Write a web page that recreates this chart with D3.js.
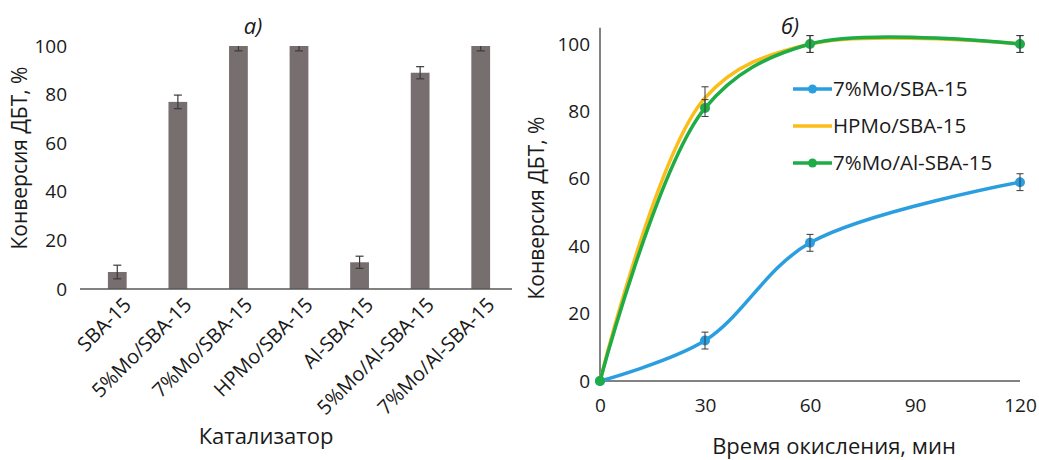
<!DOCTYPE html>
<html lang="ru">
<head>
<meta charset="UTF-8">
<title>Конверсия ДБТ</title>
<script src="https://cdn.jsdelivr.net/npm/d3@7"></script>
<style>
  html, body { margin: 0; background: #fff; }
  svg text { font-family: 'Open Sans', 'Noto Sans', sans-serif; fill: #1a1a1a; }
</style>
</head>
<body>
<script>
  const width = 1039
  const height = 460

  // а) каталитическая активность
  const catalysts = ['SBA-15', '5%Mo/SBA-15', '7%Mo/SBA-15', 'HPMo/SBA-15', 'Al-SBA-15', '5%Mo/Al-SBA-15', '7%Mo/Al-SBA-15']
  const conversion = [7, 77, 100, 100, 11, 89, 100]
  const conversionErr = [2.8, 2.8, 2, 2, 2.5, 2.5, 2]
  const yTicks = [0, 20, 40, 60, 80, 100]

  // б) кинетика
  const times = [0, 30, 60, 120]
  const timeTicks = [0, 30, 60, 90, 120]
  const seriesNames = ['7%Mo/SBA-15', 'HPMo/SBA-15', '7%Mo/Al-SBA-15']
  const moSba = [0, 12, 41, 59]
  const hpmoSba = [0, 84, 100, 100]
  const moAlSba = [0, 81, 100, 100]
  const moSbaErr = [0, 2.5, 2.5, 2.5]
  const hpmoSbaErr = [0, 3.3, 2.5, 2.5]
  const moAlSbaErr = [0, 2.5, 2.5, 2.5]
  const seriesColors = ['#2b9ee0', '#fbbd19', '#1eac47']

  const svg = d3.select('body').append('svg')
    .attr('width', width)
    .attr('height', height)

  const axisColor = '#595959'
  const errColor = '#3a3a3a'

  // ---------- левый график ----------
  const x1 = d3.scaleBand()
    .domain(catalysts)
    .range([87, 511])
    .paddingInner(0.69)
    .paddingOuter(0.345)

  const y1 = d3.scaleLinear().domain([0, 100]).range([289, 46])

  const g1 = svg.append('g')

  g1.selectAll('.bar')
    .data(catalysts)
    .enter()
    .append('rect')
    .attr('class', 'bar')
    .attr('x', d => x1(d))
    .attr('y', (d, i) => y1(conversion[i]))
    .attr('width', x1.bandwidth())
    .attr('height', (d, i) => y1(0) - y1(conversion[i]))
    .attr('fill', '#776e6f')

  // планки погрешностей
  const eb1 = g1.selectAll('.err')
    .data(catalysts)
    .enter()
    .append('g')
    .attr('class', 'err')
    .attr('stroke', errColor)
    .attr('stroke-width', 1.2)
  eb1.append('line')
    .attr('x1', d => x1(d) + x1.bandwidth() / 2)
    .attr('x2', d => x1(d) + x1.bandwidth() / 2)
    .attr('y1', (d, i) => y1(conversion[i] - conversionErr[i]))
    .attr('y2', (d, i) => y1(Math.min(100, conversion[i] + conversionErr[i])))
  eb1.each(function (d, i) {
    const cx = x1(d) + x1.bandwidth() / 2
    const vals = [conversion[i] - conversionErr[i]]
    if (conversion[i] < 100) vals.push(conversion[i] + conversionErr[i])
    vals.forEach(v => {
      d3.select(this).append('line')
        .attr('x1', cx - 4).attr('x2', cx + 4)
        .attr('y1', y1(v)).attr('y2', y1(v))
    })
  })

  // ось X
  g1.append('line')
    .attr('x1', 80).attr('x2', 512)
    .attr('y1', y1(0)).attr('y2', y1(0))
    .attr('stroke', axisColor).attr('stroke-width', 1.5)

  const gx1 = g1.append('g')
    .attr('transform', `translate(0, ${y1(0)})`)
    .call(d3.axisBottom(x1).tickSize(0))
  gx1.select('.domain').remove()
  gx1.selectAll('text')
    .attr('font-size', 20)
    .attr('text-anchor', 'end')
    .attr('transform', 'translate(8, 10) rotate(-45)')
    .attr('dy', '0.35em')

  // ось Y
  const gy1 = g1.append('g')
    .attr('transform', 'translate(70, 0)')
    .call(d3.axisLeft(y1).tickValues(yTicks).tickSize(0))
  gy1.select('.domain').remove()
  gy1.selectAll('text').attr('font-size', 19).attr('x', -3)

  g1.append('text')
    .attr('transform', 'translate(27, 158) rotate(-90)')
    .attr('text-anchor', 'middle')
    .attr('font-size', 21)
    .text('Конверсия ДБТ, %')

  g1.append('text')
    .attr('x', 266).attr('y', 444)
    .attr('text-anchor', 'middle')
    .attr('font-size', 22)
    .text('Катализатор')

  g1.append('text')
    .attr('x', 253).attr('y', 34)
    .attr('text-anchor', 'middle')
    .attr('font-size', 22)
    .attr('font-style', 'italic')
    .text('а)')

  // ---------- правый график ----------
  const x2 = d3.scaleLinear().domain([0, 120]).range([600, 1020])
  const y2 = d3.scaleLinear().domain([0, 100]).range([381, 44])

  const g2 = svg.append('g')

  const series = [
    { name: seriesNames[0], values: moSba, err: moSbaErr, color: seriesColors[0], marker: 5 },
    { name: seriesNames[1], values: hpmoSba, err: hpmoSbaErr, color: seriesColors[1], marker: 0 },
    { name: seriesNames[2], values: moAlSba, err: moAlSbaErr, color: seriesColors[2], marker: 5 }
  ]

  // оси
  g2.append('line')
    .attr('x1', x2(0)).attr('x2', x2(0))
    .attr('y1', y2(0)).attr('y2', y2(104.8))
    .attr('stroke', axisColor).attr('stroke-width', 1.5)
  g2.append('line')
    .attr('x1', x2(0)).attr('x2', x2(120))
    .attr('y1', y2(0)).attr('y2', y2(0))
    .attr('stroke', axisColor).attr('stroke-width', 1.5)

  const gx2 = g2.append('g')
    .attr('transform', `translate(0, ${y2(0)})`)
    .call(d3.axisBottom(x2).tickValues(timeTicks).tickSize(0))
  gx2.select('.domain').remove()
  gx2.selectAll('text').attr('font-size', 19).attr('dy', '1.45em')

  const gy2 = g2.append('g')
    .attr('transform', `translate(${x2(0)}, 0)`)
    .call(d3.axisLeft(y2).tickValues(yTicks).tickSize(0))
  gy2.select('.domain').remove()
  gy2.selectAll('text').attr('font-size', 19).attr('x', -10)

  const line = d3.line()
    .x((d, i) => x2(times[i]))
    .y(d => y2(d))
    .curve(d3.curveCatmullRom.alpha(0.5))

  series.forEach(s => {
    g2.append('path')
      .datum(s.values)
      .attr('d', line)
      .attr('fill', 'none')
      .attr('stroke', s.color)
      .attr('stroke-width', 3.5)
  })

  series.forEach(s => {
    const gs = g2.append('g')
    s.values.forEach((v, i) => {
      if (s.marker) {
        gs.append('circle')
          .attr('cx', x2(times[i])).attr('cy', y2(v))
          .attr('r', s.marker)
          .attr('fill', s.color)
      }
      if (s.err[i] > 0) {
        const cx = x2(times[i])
        const eg = gs.append('g').attr('stroke', errColor).attr('stroke-width', 1)
        eg.append('line')
          .attr('x1', cx).attr('x2', cx)
          .attr('y1', y2(v - s.err[i])).attr('y2', y2(v + s.err[i]))
        ;[v - s.err[i], v + s.err[i]].forEach(e => {
          eg.append('line')
            .attr('x1', cx - 3.5).attr('x2', cx + 3.5)
            .attr('y1', y2(e)).attr('y2', y2(e))
        })
      }
    })
  })

  // легенда
  const legend = g2.selectAll('.legend')
    .data(series)
    .enter()
    .append('g')
    .attr('class', 'legend')
    .attr('transform', (d, i) => `translate(793, ${89 + i * 37})`)
  legend.append('line')
    .attr('x1', 0).attr('x2', 39)
    .attr('stroke', d => d.color)
    .attr('stroke-width', 3.5)
  legend.filter(d => d.marker > 0).append('circle')
    .attr('cx', 19.5).attr('r', 4.5)
    .attr('fill', d => d.color)
  legend.append('text')
    .attr('x', 40)
    .attr('dy', '0.35em')
    .attr('font-size', 20.5)
    .text(d => d.name)

  g2.append('text')
    .attr('transform', 'translate(544, 208) rotate(-90)')
    .attr('text-anchor', 'middle')
    .attr('font-size', 21)
    .text('Конверсия ДБТ, %')

  g2.append('text')
    .attr('x', 834).attr('y', 454)
    .attr('text-anchor', 'middle')
    .attr('font-size', 22)
    .text('Время окисления, мин')

  g2.append('text')
    .attr('x', 790).attr('y', 34)
    .attr('text-anchor', 'middle')
    .attr('font-size', 22)
    .attr('font-style', 'italic')
    .text('б)')
</script>
</body>
</html>
